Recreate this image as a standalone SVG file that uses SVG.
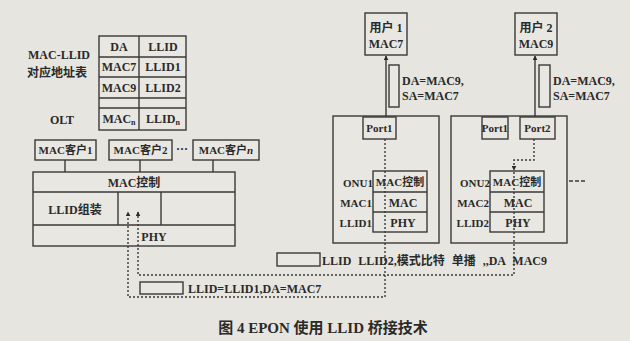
<svg xmlns="http://www.w3.org/2000/svg" width="630" height="341" viewBox="0 0 630 341">
<style>
.bg{fill:#e7e5e0}
.box{fill:#e9e7e2;stroke:#3a3a3a;stroke-width:1.4}
.ln{fill:none;stroke:#3a3a3a;stroke-width:1.4}
.dot{fill:none;stroke:#3a3a3a;stroke-width:1.4;stroke-dasharray:2 2}
.t{font-family:"Liberation Serif","Noto Sans CJK SC",serif;font-weight:bold;font-size:12px;fill:#2a2a2a}
.s{font-size:11px}
.cap{font-size:15px}
.c{text-anchor:middle}
.e{text-anchor:end}
</style>
<defs>
<marker id="ah" viewBox="0 0 8 8" refX="7" refY="4" markerWidth="5" markerHeight="5" orient="auto" markerUnits="userSpaceOnUse">
<path d="M0,0 L8,4 L0,8 Z" fill="#2a2a2a"/>
</marker>
</defs>
<rect class="bg" x="0" y="0" width="630" height="341"/>

<g id="olt-table">
<rect class="box" x="99" y="36" width="87" height="94"/>
<path class="ln" d="M99,57 H186 M99,77 H186 M99,98 H186 M99,108 H186 M139,36 V130"/>
<text class="t c" x="119" y="51">DA</text>
<text class="t c" x="163" y="51">LLID</text>
<text class="t c" x="119" y="71">MAC7</text>
<text class="t c" x="163" y="71">LLID1</text>
<text class="t c" x="119" y="92">MAC9</text>
<text class="t c" x="163" y="92">LLID2</text>
<text class="t c" x="119" y="123">MAC<tspan font-size="8" dy="2">n</tspan></text>
<text class="t c" x="163" y="123">LLID<tspan font-size="8" dy="2">n</tspan></text>
<text class="t c" x="59" y="59">MAC-LLID</text>
<text class="t c" x="57" y="77">对应地址表</text>
<text class="t c" x="62" y="124">OLT</text>
</g>

<g id="mac-client-1">
<rect class="box" x="35" y="140" width="61" height="20"/>
<text class="t s c" x="65.5" y="154">MAC客户1</text>
</g>
<g id="mac-client-2">
<rect class="box" x="109" y="140" width="63" height="20"/>
<text class="t s c" x="140.5" y="154">MAC客户2</text>
</g>
<text class="t c" x="182" y="153">···</text>
<g id="mac-client-n">
<rect class="box" x="193" y="140" width="66" height="20"/>
<text class="t s c" x="226" y="154">MAC客户<tspan font-style="italic">n</tspan></text>
</g>

<g id="olt-stack">
<rect class="box" x="33" y="172" width="202" height="74"/>
<path class="ln" d="M33,192 H235 M33,225 H235 M118,192 V225 M161,192 V225"/>
<text class="t c" x="134" y="187">MAC控制</text>
<text class="t c" x="75" y="214">LLID组装</text>
<text class="t c" x="154" y="241">PHY</text>
</g>

<g id="user1">
<rect class="box" x="365" y="13" width="42" height="42"/>
<text class="t c" x="386" y="32">用户 1</text>
<text class="t c" x="386" y="48">MAC7</text>
</g>
<g id="user2">
<rect class="box" x="515" y="13" width="42" height="42"/>
<text class="t c" x="536" y="32">用户 2</text>
<text class="t c" x="536" y="48">MAC9</text>
</g>

<g id="onu1">
<rect class="box" x="333" y="116" width="106" height="127"/>
<rect class="box" x="363" y="117" width="33" height="22"/>
<text class="t s c" x="379.5" y="132">Port1</text>
<rect class="box" x="373" y="171" width="54" height="61"/>
<path class="ln" d="M373,192 H427 M373,212 H427"/>
<text class="t s c" x="400" y="186">MAC控制</text>
<text class="t c" x="403" y="207">MAC</text>
<text class="t c" x="403" y="227">PHY</text>
<text class="t s e" x="373" y="187">ONU1</text>
<text class="t s e" x="372" y="207">MAC1</text>
<text class="t s e" x="372" y="227">LLID1</text>
</g>

<g id="onu2">
<rect class="box" x="451" y="116" width="116" height="127"/>
<rect class="box" x="482" y="117" width="26" height="22"/>
<text class="t s c" x="495" y="132">Port1</text>
<rect class="box" x="520" y="117" width="35" height="22"/>
<text class="t s c" x="537.5" y="132">Port2</text>
<rect class="box" x="490" y="171" width="54" height="61"/>
<path class="ln" d="M490,192 H544 M490,212 H544"/>
<text class="t s c" x="517" y="186">MAC控制</text>
<text class="t c" x="518" y="207">MAC</text>
<text class="t c" x="518" y="227">PHY</text>
<text class="t s e" x="490" y="187">ONU2</text>
<text class="t s e" x="489" y="207">MAC2</text>
<text class="t s e" x="489" y="227">LLID2</text>
</g>

<g id="frame1">
<rect class="box" x="389" y="65" width="10" height="42"/>
<text class="t" x="402" y="85">DA=MAC9,</text>
<text class="t" x="402" y="100">SA=MAC7</text>
</g>
<g id="frame2">
<rect class="box" x="539" y="65" width="11" height="42"/>
<text class="t" x="553" y="85">DA=MAC9,</text>
<text class="t" x="553" y="100">SA=MAC7</text>
</g>

<g id="connectors">
<line class="ln" x1="65" y1="160" x2="65" y2="172"/>
<line class="ln" x1="140" y1="160" x2="140" y2="172"/>
<line class="ln" x1="213" y1="160" x2="213" y2="172"/>
<line class="ln" x1="386" y1="117" x2="386" y2="56" marker-end="url(#ah)"/>
<line class="ln" x1="535" y1="117" x2="535" y2="56" marker-end="url(#ah)"/>
<path class="dot" d="M385,139 V297 H128 V212" marker-end="url(#ah)"/>
<path class="dot" d="M534,139 V160 H514 V170" marker-end="url(#ah)"/>
<path class="dot" d="M514,172 V275 H138 V212" marker-end="url(#ah)"/>
<line class="ln" x1="569" y1="181" x2="586" y2="181" stroke-dasharray="4 2"/>
</g>

<g id="label-down">
<rect class="box" x="277" y="253" width="43" height="13"/>
<text class="t" x="322" y="265" word-spacing="4">LLID LLID2,模式比特 单播 ,,DA MAC9</text>
</g>
<g id="label-up">
<rect class="box" x="140" y="282" width="43" height="12"/>
<text class="t" x="188" y="293">LLID=LLID1,DA=MAC7</text>
</g>

<text class="t c cap" x="323" y="333">图 4 EPON 使用 LLID 桥接技术</text>
</svg>
